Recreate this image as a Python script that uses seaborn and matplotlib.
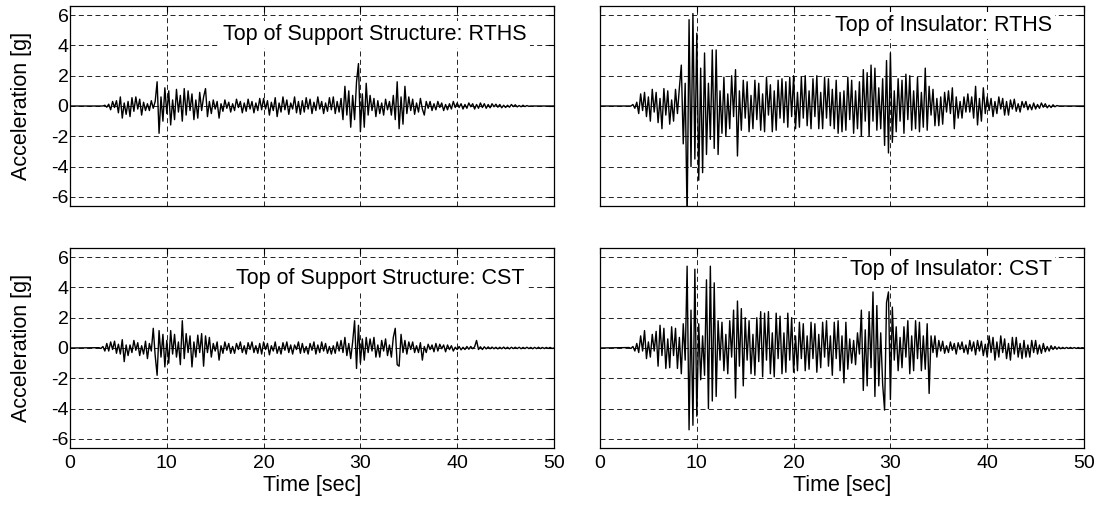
import numpy as np
import pandas as pd
import matplotlib
matplotlib.use("Agg")
import matplotlib.pyplot as plt
import seaborn as sns

T0 = 3.0
DT = 0.2
T_END = 50.0

support_rths = [
    0.0, 0.0, 0.0, 0.05, -0.08,       # 3
    0.12, -0.25, 0.3, -0.1, 0.35,     # 4
    -0.45, 0.6, -0.8, 0.2, -0.55,     # 5
    0.3, -0.7, 0.55, -0.35, 0.6,      # 6
    -0.2, 0.45, -0.6, 0.25, -0.3,     # 7
    0.15, -0.3, 0.35, -0.15, 0.3,     # 8
    1.6, -1.8, 0.6, -1.0, 1.2,        # 9
    -0.5, 1.0, -1.25, 0.4, -0.9,      # 10
    1.1, -0.4, 0.7, -1.0, 1.15,       # 11
    -0.6, 1.0, -0.3, 0.8, -0.9,       # 12
    0.4, -0.8, 0.9, -0.3, 0.6,        # 13
    1.15, -0.7, 0.3, -0.5, 0.4,       # 14
    -0.2, 0.3, -0.8, 0.15, -0.35,     # 15
    0.4, -0.15, 0.25, -0.4, 0.15,     # 16
    -0.3, 0.45, -0.1, 0.3, -0.45,     # 17
    0.2, -0.35, 0.45, -0.2, 0.3,      # 18
    -0.45, 0.2, -0.3, 0.5, -0.25,     # 19
    0.5, -0.2, 0.35, -0.6, 0.25,      # 20
    -0.3, 0.55, -0.7, 0.2, -0.4,      # 21
    0.6, -0.25, 0.4, -0.55, 0.2,      # 22
    -0.2, 0.6, -0.45, 0.3, -0.55,     # 23
    0.35, -0.4, 0.55, -0.2, 0.45,     # 24
    -0.5, 0.25, -0.3, 0.6, -0.2,      # 25
    0.3, -0.5, 0.2, -0.35, 0.55,      # 26
    -0.25, 0.6, -0.5, 0.3, -0.4,      # 27
    0.5, -0.9, 1.3, -0.6, 1.0,        # 28
    -1.4, 0.7, -0.9, 1.6, 2.8,        # 29
    -1.7, 0.8, -1.4, 1.5, -0.6,       # 30
    0.7, -0.3, 0.5, -0.7, 0.35,       # 31
    -0.5, 0.2, -0.6, 0.45, -0.25,     # 32
    0.3, -0.6, 0.7, -0.9, 1.6,        # 33
    -1.5, 0.6, -1.2, 1.3, -0.5,       # 34
    0.6, -0.3, 0.45, -0.55, 0.2,      # 35
    -0.4, 0.5, -0.2, -0.6, 0.3,       # 36
    -0.15, 0.3, -0.3, 0.15, -0.25,    # 37
    0.3, -0.1, 0.2, -0.3, 0.1,        # 38
    -0.25, 0.15, -0.2, 0.3, -0.1,     # 39
    0.2, -0.1, 0.15, -0.2, 0.1,       # 40
    -0.15, 0.2, -0.05, 0.15, -0.2,    # 41
    0.1, -0.15, 0.2, -0.1, 0.15,      # 42
    -0.15, 0.1, -0.12, 0.15, -0.05,   # 43
    0.12, -0.08, 0.1, -0.12, 0.05,    # 44
    -0.1, 0.05, -0.08, 0.1, -0.04,    # 45
    0.08, -0.06, 0.03, -0.05, 0.05,   # 46
    -0.04, 0.03, -0.02, 0.0, 0.0,     # 47
]

insulator_rths = [
    0.0, 0.0, 0.1, -0.15, 0.25,       # 3
    -0.5, 0.8, -0.3, 0.9, -0.7,       # 4
    0.6, -1.0, 1.1, -0.4, 0.9,        # 5
    -1.1, 0.5, -1.5, 1.15, -0.6,      # 6
    1.0, -1.2, 0.4, -1.0, 1.1,        # 7
    -0.5, 1.2, 2.7, -2.5, 1.5,        # 8
    -7.5, 5.7, -4.0, 6.1, -3.5,       # 9
    4.8, -4.9, 2.5, -4.4, 3.5,        # 10
    -3.2, 1.5, -2.2, 3.7, -2.8,       # 11
    3.7, -3.2, 1.0, -1.8, 1.9,        # 12
    -2.0, 0.8, -1.5, 2.0, -0.7,       # 13
    2.4, -3.3, 1.0, -1.6, 1.7,        # 14
    -0.8, 1.6, -1.7, 0.7, -1.5,       # 15
    1.7, -0.9, 1.5, -1.6, 0.8,        # 16
    -1.7, 1.9, -0.6, 1.4, -1.7,       # 17
    1.0, -1.6, 1.7, -0.8, 1.8,        # 18
    -1.1, 1.6, -1.4, 1.9, -0.7,       # 19
    2.0, -1.5, 0.9, -1.4, 1.9,        # 20
    -0.8, 2.0, -1.3, 1.0, -1.5,       # 21
    1.8, -0.7, 2.0, -1.5, 0.9,        # 22
    -1.5, 1.9, -0.8, 1.8, -1.3,       # 23
    1.1, -1.5, 1.7, -1.8, 0.9,        # 24
    -1.7, 1.0, -1.6, 1.9, -0.9,       # 25
    1.7, -1.8, 1.0, -1.5, 1.6,        # 26
    -2.0, 2.4, -1.0, 2.2, -2.0,       # 27
    2.7, -1.0, 2.5, -1.6, 1.2,        # 28
    -1.5, 1.8, -2.6, 3.0, -3.1,       # 29
    3.5, -2.4, 1.0, -1.7, 1.8,        # 30
    -1.0, 1.7, -1.8, 2.1, -0.9,       # 31
    2.0, -1.6, 1.0, -1.5, 1.9,        # 32
    -1.7, 0.9, -1.4, 2.5, -1.6,       # 33
    1.3, -0.6, 1.1, -1.3, 0.5,        # 34
    -1.3, 0.6, -1.2, 0.9, -0.4,       # 35
    1.0, -0.5, 1.2, -1.5, 0.6,        # 36
    -0.8, 0.3, -0.8, 0.6, -0.4,       # 37
    0.8, -0.4, 0.6, -0.8, 1.3,        # 38
    -1.25, 0.5, -1.0, 1.2, -0.5,      # 39
    0.6, -0.3, 0.5, -0.7, 0.3,        # 40
    -0.5, 0.6, -0.2, 0.5, -0.6,       # 41
    0.3, -0.6, 0.4, -0.2, 0.45,       # 42
    -0.35, 0.15, -0.4, 0.3, -0.1,     # 43
    0.3, -0.25, 0.1, -0.25, 0.2,      # 44
    -0.2, 0.1, -0.15, 0.2, -0.08,     # 45
    0.15, -0.12, 0.05, -0.1, 0.08,    # 46
    -0.05, 0.03, 0.0, 0.0, 0.0,       # 47
]

support_cst = [
    0.02, -0.03, 0.1, -0.2, 0.3,      # 3
    -0.2, 0.4, -0.1, 0.45, -0.35,     # 4
    0.25, -0.4, 0.55, -0.9, 0.2,      # 5
    -0.5, 0.2, -0.3, 0.5, -0.15,      # 6
    0.35, -0.5, 0.15, -0.4, 0.45,     # 7
    -0.7, 0.3, -0.2, 1.3, -0.5,       # 8
    -1.8, 1.15, -0.6, 0.9, -1.25,     # 9
    0.5, -1.0, 1.15, -0.4, 0.9,       # 10
    -0.6, 0.4, -1.1, 1.8, -0.7,       # 11
    0.95, -0.3, 0.8, -1.25, 0.4,      # 12
    -0.6, 0.85, -0.3, 0.95, -1.2,     # 13
    0.8, -0.3, 0.7, -0.6, 0.3,        # 14
    -0.2, 0.4, -0.8, 0.15, -0.35,     # 15
    0.4, -0.15, 0.3, -0.35, 0.1,      # 16
    -0.35, 0.3, -0.1, 0.4, -0.3,      # 17
    0.15, -0.4, 0.35, -0.1, 0.4,      # 18
    -0.3, 0.15, -0.35, 0.3, -0.4,     # 19
    0.4, -0.1, 0.3, -0.45, 0.15,      # 20
    -0.2, 0.4, -0.35, 0.1, -0.4,      # 21
    0.35, -0.15, 0.4, -0.3, 0.2,      # 22
    -0.4, 0.2, -0.1, 0.4, -0.35,      # 23
    0.3, -0.3, 0.1, -0.4, 0.3,        # 24
    -0.15, 0.4, -0.4, 0.2, -0.3,      # 25
    0.4, -0.2, 0.3, -0.35, 0.1,       # 26
    -0.4, 0.15, -0.35, 0.4, -0.2,     # 27
    0.5, -0.3, 0.7, -0.5, 0.3,        # 28
    -0.7, 0.4, 1.8, -1.35, 1.5,       # 29
    -1.0, 0.6, -0.8, 0.7, -0.3,       # 30
    0.6, -0.2, 0.7, -0.6, 0.2,        # 31
    -0.6, 0.5, -0.2, 0.6, -0.5,       # 32
    0.2, -0.6, 0.7, 1.3, -1.1,        # 33
    -1.2, 0.9, -0.3, 0.5, -0.4,       # 34
    0.4, -0.1, 0.4, -0.3, 0.15,       # 35
    -0.3, 0.35, -0.8, 0.1, -0.3,      # 36
    0.25, -0.1, 0.2, -0.25, 0.3,      # 37
    -0.2, 0.25, -0.05, 0.2, -0.25,    # 38
    0.2, -0.1, 0.15, -0.2, 0.05,      # 39
    -0.1, 0.1, -0.12, 0.05, -0.1,     # 40
    0.1, -0.08, 0.1, -0.05, 0.08,     # 41
    0.5, -0.1, 0.08, -0.1, 0.08,      # 42
    -0.06, 0.07, -0.05, 0.06, -0.05,  # 43
    0.05, -0.06, 0.05, -0.05, 0.06,   # 44
    -0.05, 0.05, -0.06, 0.05, -0.04,  # 45
    0.05, -0.04, 0.05, -0.05, 0.04,   # 46
    -0.04, 0.05, -0.04, 0.04, -0.05,  # 47
    0.04, -0.04, 0.05, -0.04, 0.04,   # 48
    -0.04, 0.04, -0.03, 0.04, -0.03,  # 49
]

insulator_cst = [
    0.03, -0.03, 0.1, -0.2, 0.3,      # 3
    -0.3, 0.8, -0.2, 1.15, -0.7,      # 4
    0.4, -0.6, 0.9, -0.2, 1.1,        # 5
    -1.2, 1.5, -0.5, 1.3, -1.35,      # 6
    0.6, -1.3, 1.4, -0.5, 1.3,        # 7
    -1.35, 0.7, -1.7, 1.6, -0.8,      # 8
    5.4, -5.4, 2.5, -5.1, 5.2,        # 9
    -4.5, 1.6, -2.1, 0.8, -1.8,       # 10
    4.5, -4.0, 5.4, -3.5, 4.3,        # 11
    -3.2, 1.8, -0.8, 1.7, -1.5,       # 12
    0.9, -1.7, 1.8, -0.6, 2.5,        # 13
    -3.3, 3.1, -1.2, 2.6, -2.5,       # 14
    2.0, -0.8, 1.8, -1.7, 0.9,        # 15
    -1.8, 2.0, -0.9, 2.4, -1.9,       # 16
    2.3, -0.8, 2.4, -1.7, 1.0,        # 17
    -1.9, 2.3, -0.7, 2.1, -1.7,       # 18
    1.0, -1.6, 2.3, -0.8, 2.0,        # 19
    -1.6, 0.8, -1.5, 1.7, -0.7,       # 20
    1.6, -1.5, 0.8, -1.4, 1.7,        # 21
    -0.7, 1.6, -1.6, 0.9, -1.3,       # 22
    1.7, -0.6, 1.8, -1.2, 0.8,        # 23
    -1.8, 1.7, -0.7, 1.8, -1.5,       # 24
    0.8, -2.3, 1.7, -1.4, 0.6,        # 25
    -1.0, 0.5, -1.1, 1.0, -0.4,       # 26
    2.5, -2.8, 1.2, -2.5, 2.4,        # 27
    -1.3, 3.7, -3.2, 2.8, -2.5,       # 28
    1.0, -2.4, -4.1, 3.0, 3.7,        # 29
    -3.4, 2.7, -0.8, 1.4, -1.5,       # 30
    0.7, -1.3, 1.4, -0.6, 1.8,        # 31
    -1.7, 0.8, -1.5, 1.8, -0.7,       # 32
    1.7, -1.5, 0.8, -1.4, 1.6,        # 33
    -3.0, 0.8, -0.3, 0.8, -0.6,       # 34
    0.5, -0.2, 0.45, -0.35, 0.15,     # 35
    -0.3, 0.4, -0.15, 0.3, -0.4,      # 36
    0.35, -0.1, 0.4, -0.3, 0.2,       # 37
    -0.4, 0.5, -0.2, 0.4, -0.45,      # 38
    0.5, -0.2, 0.45, -0.5, 0.25,      # 39
    -0.6, 0.8, -0.3, 0.7, -0.8,       # 40
    0.4, -0.6, 0.8, -0.3, 0.6,        # 41
    -0.7, 0.3, -0.8, 0.7, -0.4,       # 42
    0.7, -0.6, 0.3, -0.7, 0.5,        # 43
    -0.6, 0.2, -0.6, 0.5, -0.3,       # 44
    0.5, -0.4, 0.2, -0.35, 0.3,       # 45
    -0.25, 0.1, -0.2, 0.15, -0.1,     # 46
    0.1, -0.08, 0.06, -0.05, 0.04,    # 47
    -0.04, 0.04, -0.03, 0.04, -0.03,  # 48
    0.03, -0.03, 0.03, -0.02, 0.02,   # 49
]

panel_titles = [
    "Top of Support Structure: RTHS",
    "Top of Insulator: RTHS",
    "Top of Support Structure: CST",
    "Top of Insulator: CST",
]
panel_series = [support_rths, insulator_rths, support_cst, insulator_cst]
y_ticks = [-6, -4, -2, 0, 2, 4, 6]
x_ticks = [0, 10, 20, 30, 40, 50]


def to_frame(values):
    t = T0 + DT * np.arange(len(values))
    t = np.concatenate([[0.0], t, [T_END]])
    a = np.concatenate([[0.0], values, [0.0]])
    return pd.DataFrame({"time": t, "acc": a})


sns.set_style("white")
plt.rcParams["font.family"] = ["Liberation Sans", "DejaVu Sans"]
plt.rcParams["axes.unicode_minus"] = False
plt.rcParams["text.color"] = "black"
plt.rcParams["axes.labelcolor"] = "black"

fig = plt.figure(figsize=(10.98, 5.08), dpi=100)
W, H = 1098, 508
boxes = [(70, 6), (600, 6), (70, 248), (600, 248)]
ax_w, ax_h = 484, 200
text_pos = [(47.2, 4.7), (46.7, 5.3), (47.0, 4.6), (46.7, 5.2)]

for i, (left, top) in enumerate(boxes):
    ax = fig.add_axes([left / W, 1 - (top + ax_h) / H, ax_w / W, ax_h / H])
    df = to_frame(panel_series[i])
    sns.lineplot(data=df, x="time", y="acc", ax=ax, color="black",
                 linewidth=1.0, estimator=None, sort=False)
    ax.set_xlim(0, 50)
    ax.set_ylim(-6.6, 6.6)
    ax.set_xticks(x_ticks)
    ax.set_yticks(y_ticks)
    ax.grid(True, color="black", linestyle=(0, (6, 4)), linewidth=0.6)
    ax.tick_params(direction="in", top=True, right=True, length=4,
                   width=0.8, labelsize=14, colors="black")
    ax.tick_params(axis="y", pad=1)
    ax.tick_params(axis="x", pad=5)
    for s in ax.spines.values():
        s.set_color("black")
        s.set_linewidth(0.9)
    if i % 2 == 0:
        ax.set_yticklabels([str(v) for v in y_ticks])
        ax.set_ylabel("Acceleration [g]", fontsize=15.5, color="black")
        ax.yaxis.set_label_coords(-0.078, 0.5)
    else:
        ax.set_yticklabels([])
        ax.set_ylabel("")
    if i >= 2:
        ax.set_xticklabels([str(v) for v in x_ticks])
        ax.set_xlabel("Time [sec]", fontsize=15.5, labelpad=2, color="black")
    else:
        ax.set_xticklabels([])
        ax.set_xlabel("")
    tx, ty = text_pos[i]
    ax.text(tx, ty, panel_titles[i], ha="right", va="center", fontsize=15.5,
            color="black",
            bbox=dict(facecolor="white", edgecolor="none", pad=2), zorder=5)

fig.savefig("out.png", dpi=100)
